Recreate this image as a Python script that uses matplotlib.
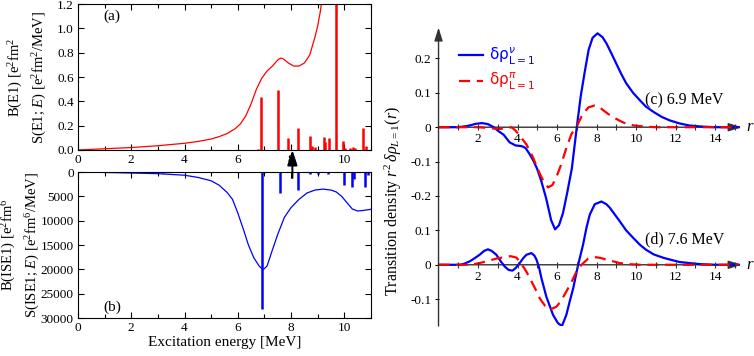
import numpy as np
import matplotlib
matplotlib.use('Agg')
import matplotlib.pyplot as plt
from matplotlib.font_manager import FontProperties

plt.rcParams['font.family'] = ['Liberation Serif', 'DejaVu Serif']
plt.rcParams['mathtext.fontset'] = 'custom'
plt.rcParams['mathtext.rm'] = 'Liberation Serif'
plt.rcParams['mathtext.it'] = 'Liberation Serif:italic'
plt.rcParams['mathtext.bf'] = 'Liberation Serif:bold'

# ---- (a) E1 strength ----
e_a = [0, 1, 2, 3, 4, 4.5, 5, 5.3, 5.6, 5.9, 6.1, 6.3, 6.5, 6.7, 6.9, 7.1, 7.3,
       7.5, 7.6, 7.7, 7.9, 8.1, 8.3, 8.5, 8.7, 8.9, 9.0, 9.1, 9.2]
s_e1 = [0, 0.01, 0.02, 0.035, 0.055, 0.07, 0.09, 0.11, 0.135, 0.175, 0.215, 0.28,
        0.38, 0.5, 0.59, 0.65, 0.69, 0.74, 0.755, 0.75, 0.715, 0.69, 0.69, 0.715,
        0.78, 0.93, 1.02, 1.14, 1.3]
e1_lines = [6.77, 6.89, 7.52, 7.9, 8.26, 8.72, 8.8, 8.9, 9.22, 9.29, 9.42, 9.69,
            9.94, 10.04, 10.22, 10.31, 10.4, 10.71, 10.83]
b_e1 = [0.01, 0.436, 0.496, 0.095, 0.177, 0.115, 0.035, 0.025, 0.109, 0.065, 0.095,
        1.3, 0.07, 0.015, 0.02, 0.022, 0.015, 0.177, 0.035]

# ---- (b) ISE1 strength ----
e_b = [0, 1, 2, 3, 4, 4.5, 5, 5.3, 5.6, 5.8, 6.0, 6.2, 6.4, 6.6, 6.8, 6.95, 7.1,
       7.3, 7.5, 7.75, 8.0, 8.3, 8.6, 8.9, 9.2, 9.5, 9.7, 9.9, 10.1, 10.3, 10.5,
       10.7, 11.0]
s_ise1 = [0, 80, 200, 330, 650, 1100, 1800, 2700, 4200, 5600, 8400, 11600, 15000,
          17600, 19300, 20100, 19300, 16000, 12800, 9300, 7300, 5600, 4300, 3700,
          3500, 3700, 4100, 5000, 6300, 7600, 8000, 7900, 7650]
ise1_lines = [3.2, 6.92, 7.59, 8.25, 8.7, 9.0, 9.4, 10.0, 10.27, 10.37, 10.77, 10.9]
b_ise1 = [150, 28200, 4400, 3600, 400, 350, 500, 2700, 3150, 1500, 3000, 700]

# ---- (c) 6.9 MeV transition densities ----
r_c_nu = [0, 1.0, 1.5, 1.9, 2.2, 2.5, 2.8, 3.0, 3.3, 3.6, 3.9, 4.2, 4.4, 4.6, 4.8,
          5.0, 5.2, 5.45, 5.7, 5.9, 6.1, 6.3, 6.5, 6.75, 7.0, 7.2, 7.4, 7.6, 7.8,
          8.05, 8.3, 8.5, 8.75, 9.0, 9.25, 9.5, 9.85, 10.2, 10.5, 10.9, 11.3, 11.7,
          12.2, 12.7, 13.3, 14.0, 15.2]
rho_c_nu = [0, 0, 0.004, 0.01, 0.012, 0.009, 0.0, -0.01, -0.022, -0.044, -0.053,
            -0.055, -0.06, -0.077, -0.097, -0.122, -0.156, -0.207, -0.27, -0.297,
            -0.285, -0.25, -0.195, -0.12, 0.0, 0.09, 0.16, 0.225, 0.26, 0.273,
            0.262, 0.244, 0.215, 0.185, 0.155, 0.128, 0.1, 0.078, 0.06, 0.044,
            0.03, 0.02, 0.011, 0.005, 0.002, 0, 0]
r_c_pi = [0, 2.0, 2.5, 3.0, 3.4, 3.7, 3.9, 4.05, 4.25, 4.45, 4.65, 4.8, 5.0, 5.15,
          5.3, 5.55, 5.77, 6.0, 6.2, 6.48, 6.73, 7.0, 7.3, 7.6, 7.9, 8.1, 8.35, 8.6,
          8.85, 9.2, 9.5, 9.9, 10.4, 11.0, 15.2]
rho_c_pi = [0, 0, -0.002, -0.005, -0.004, 0.0, -0.01, -0.02, -0.035, -0.05, -0.072,
            -0.09, -0.118, -0.138, -0.155, -0.175, -0.168, -0.14, -0.11, -0.059,
            -0.02, 0.003, 0.038, 0.058, 0.063, 0.06, 0.049, 0.038, 0.029, 0.018,
            0.01, 0.005, 0.002, 0, 0]

# ---- (d) 7.6 MeV transition densities ----
r_d_nu = [0, 1.1, 1.3, 1.58, 1.8, 2.08, 2.3, 2.5, 2.7, 2.93, 3.15, 3.35, 3.55, 3.74,
          3.9, 4.11, 4.3, 4.45, 4.7, 4.85, 4.96, 5.1, 5.21, 5.46, 5.8, 6.05, 6.25,
          6.47, 6.65, 6.82, 7.07, 7.32, 7.5, 7.66, 7.91, 8.25, 8.5, 8.67, 9.17,
          9.5, 9.86, 10.2, 10.5, 10.9, 11.4, 12.2, 13.2, 14.0, 15.2]
rho_d_nu = [0, 0, 0.003, 0.01, 0.018, 0.029, 0.04, 0.045, 0.04, 0.029, 0.01, -0.005,
            -0.015, -0.017, -0.01, 0.005, 0.02, 0.029, 0.034, 0.027, 0.015, -0.01,
            -0.039, -0.093, -0.146, -0.17, -0.178, -0.146, -0.105, -0.068, 0.0,
            0.059, 0.11, 0.146, 0.176, 0.184, 0.176, 0.166, 0.127, 0.1, 0.078,
            0.058, 0.044, 0.03, 0.02, 0.008, 0.002, 0, 0]
r_d_pi = [0, 1.5, 1.8, 2.08, 2.5, 2.93, 3.3, 3.65, 3.94, 4.1, 4.28, 4.45, 4.62, 4.9,
          5.13, 5.4, 5.65, 5.97, 6.2, 6.47, 6.75, 6.98, 7.24, 7.58, 7.95, 8.2, 8.5,
          8.85, 9.17, 9.6, 10.2, 15.2]
rho_d_pi = [0, 0, 0.002, 0.005, 0.011, 0.018, 0.022, 0.025, 0.021, 0.01, -0.005,
            -0.02, -0.039, -0.07, -0.098, -0.12, -0.13, -0.122, -0.105, -0.078,
            -0.048, -0.02, 0.0, 0.018, 0.022, 0.02, 0.015, 0.01, 0.005, 0.002, 0, 0]

d_offset = -0.4
r_yticks = [0.2, 0.1, 0, -0.1, -0.2, -0.3, -0.4, -0.5]
r_yticklabels = ['0.2', '0.1', '0', '-0.1', '-0.2', '0.1', '0', '-0.1']

fig = plt.figure(figsize=(7.54, 3.56), dpi=100)
ax_a = fig.add_axes([0.1034, 0.5787, 0.3886, 0.41])
ax_b = fig.add_axes([0.1034, 0.1067, 0.3886, 0.41])
ax_r = fig.add_axes([0.5816, 0.0843, 0.4191, 0.8385])

# panel (a)
ax_a.plot(e_a, s_e1, color='red', lw=0.9)
ax_a.vlines(e1_lines, 0, b_e1, color='red', lw=1.8)
ax_a.set_xlim(0, 11)
ax_a.set_ylim(0, 1.2)
ax_a.set_xticks(range(0, 11, 2))
ax_a.set_xticks(range(0, 12), minor=True)
ax_a.set_yticks(np.arange(0, 1.21, 0.2))
ax_a.set_yticklabels(['%.1f' % v for v in np.arange(0, 1.21, 0.2)])
ax_a.text(1.27, 1.1, '(a)', ha='center', va='center', fontsize=11)
ax_a.set_ylabel('B(E1) [e$^2$fm$^2$\nS(E1; $E$) [e$^2$fm$^2$/MeV]', fontsize=10.5,
                linespacing=1.45)
ax_a.yaxis.set_label_coords(-0.1, 0.5)

# panel (b)
ax_b.plot(e_b, s_ise1, color='blue', lw=0.9)
ax_b.vlines(ise1_lines, 0, b_ise1, color='blue', lw=1.8)
ax_b.set_xlim(0, 11)
ax_b.set_ylim(30000, 0)
ax_b.set_xticks(range(0, 11, 2))
ax_b.set_xticks(range(0, 12), minor=True)
ax_b.set_yticks(range(0, 30001, 5000))
ax_b.text(1.3, 27700, '(b)', ha='center', va='center', fontsize=11)
ax_b.set_xlabel('Excitation energy [MeV]', fontsize=11, labelpad=1)
ax_b.set_ylabel('B(ISE1) [e$^2$fm$^6$\nS(ISE1; $E$) [e$^2$fm$^6$/MeV]', fontsize=10.5,
                linespacing=1.45)
ax_b.yaxis.set_label_coords(-0.122, 0.5)

for ax in (ax_a, ax_b):
    ax.tick_params(which='both', direction='in', top=True, right=True,
                   labelsize=9.5, width=0.8, pad=3)
    ax.tick_params(which='major', length=4)
    ax.tick_params(which='minor', length=3)
    for s in ax.spines.values():
        s.set_linewidth(0.8)

# arrow between (a) and (b)
ax_a.set_zorder(3)
ax_a.annotate('', xy=(8.05, 0.0), xytext=(8.05, -0.23),
              arrowprops=dict(arrowstyle='-|>,head_length=0.9,head_width=0.3',
                              color='k', lw=1.4, shrinkA=0, shrinkB=0),
              annotation_clip=False)

# right panel
ax_r.plot(r_c_nu, rho_c_nu, color='blue', lw=1.6,
          label='δρ$^{ν}_{\\mathregular{L=1}}$')
ax_r.plot(r_c_pi, rho_c_pi, color='red', lw=1.6, ls=(0, (5, 3)),
          label='δρ$^{π}_{\\mathregular{L=1}}$')
ax_r.plot(r_d_nu, np.array(rho_d_nu) + d_offset, color='blue', lw=1.6)
ax_r.plot(r_d_pi, np.array(rho_d_pi) + d_offset, color='red', lw=1.6, ls=(0, (5, 3)))
ax_r.set_xlim(0, 16)
ax_r.set_ylim(-0.578, 0.29)
for s in ax_r.spines.values():
    s.set_visible(False)
ax_r.set_xticks([])
ax_r.set_yticks(r_yticks)
ax_r.set_yticklabels(r_yticklabels)
ax_r.tick_params(axis='y', direction='out', length=3, width=0.8, labelsize=9.5, pad=2)

ax_r.annotate('', xy=(0, 0.29), xytext=(0, -0.578),
              arrowprops=dict(arrowstyle='-|>,head_length=0.8,head_width=0.25',
                              color='#333333', lw=1.0, shrinkA=0, shrinkB=0),
              annotation_clip=False)
for off in (0, d_offset):
    ax_r.annotate('', xy=(15.35, off), xytext=(0, off),
                  arrowprops=dict(arrowstyle='-|>,head_length=0.8,head_width=0.25',
                                  color='#333333', lw=1.0, shrinkA=0, shrinkB=0),
                  zorder=1)
    ax_r.vlines(range(1, 16), off - 0.008, off + 0.008, color='#333333', lw=0.8)
    for v in range(2, 15, 2):
        ax_r.text(v, off - 0.035, str(v), ha='center', va='center', fontsize=9.5)
    ax_r.text(15.6, off, 'r', style='italic', ha='left', va='center', fontsize=12,
              clip_on=False)

ax_r.text(10.46, 0.079, '(c) 6.9 MeV', ha='left', va='center', fontsize=11.5)
ax_r.text(10.46, d_offset + 0.074, '(d) 7.6 MeV', ha='left', va='center', fontsize=11.5)
ax_r.set_ylabel(r'Transition density $r^2\,\delta\rho_{L=1}(r)$', fontsize=11.5)
ax_r.yaxis.set_label_coords(-0.11, 0.42)

ax_r.legend(loc='upper left', bbox_to_anchor=(0.02, 0.985), frameon=False,
            handlelength=1.6, handletextpad=0.4, labelspacing=0.3,
            labelcolor='linecolor',
            prop=FontProperties(family='DejaVu Sans', size=11,
                                math_fontfamily='dejavusans'))

fig.savefig('out.png', dpi=100)
